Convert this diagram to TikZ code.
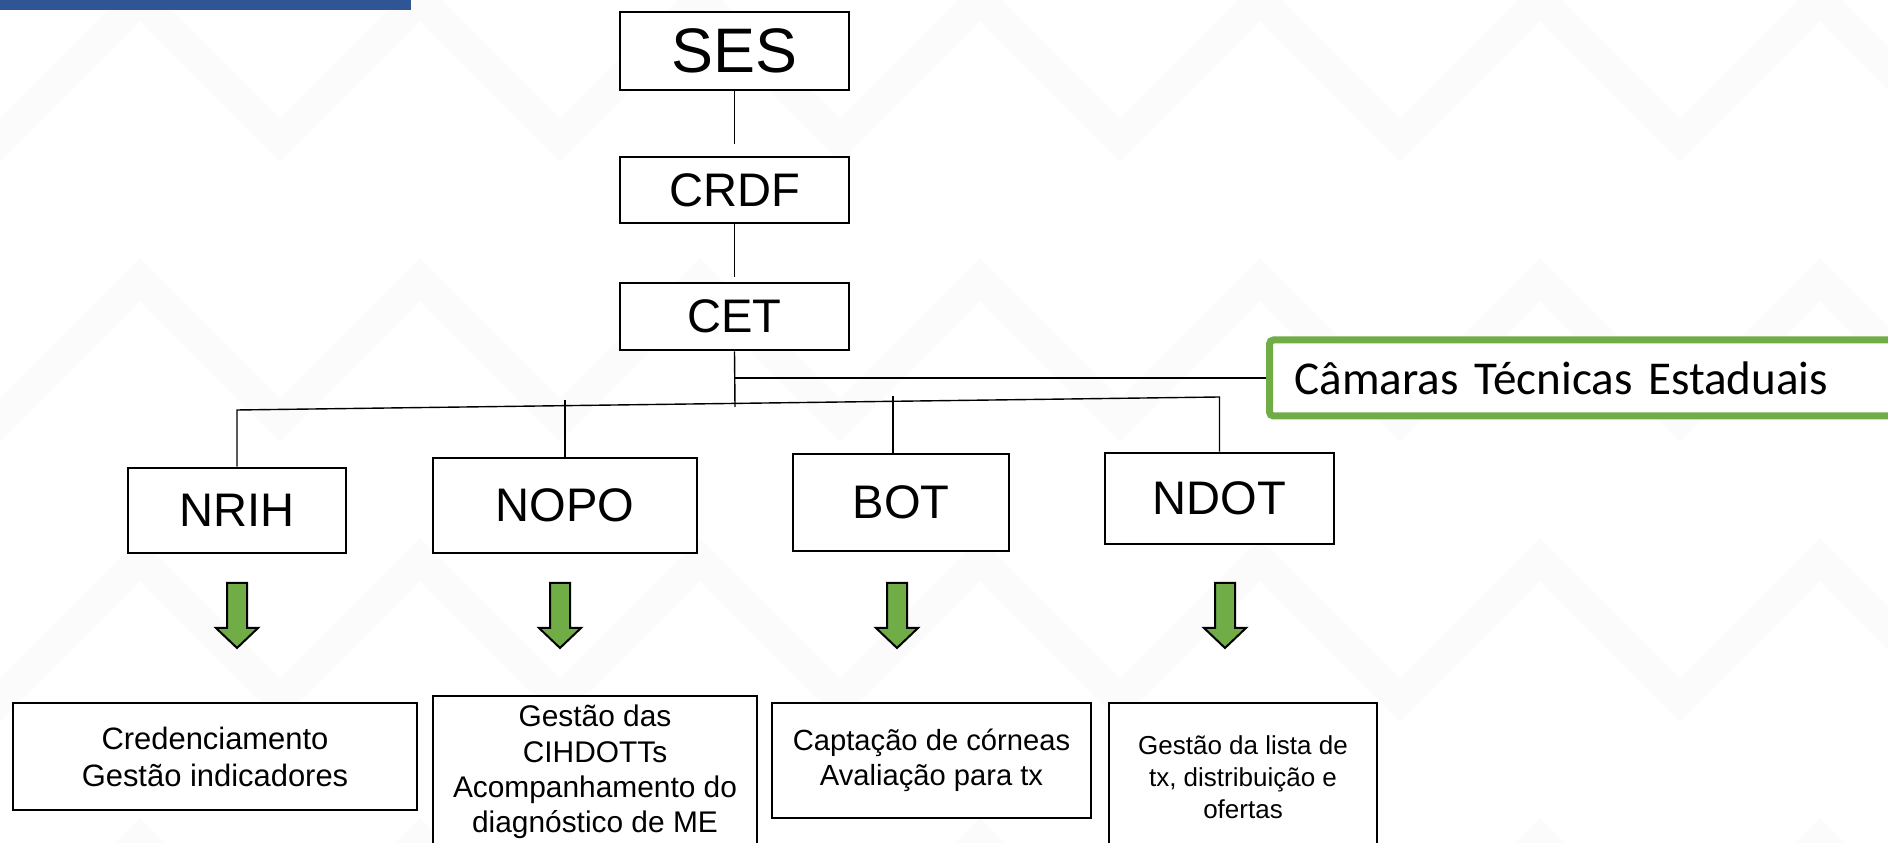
\documentclass[tikz,border=0pt]{standalone}
\usepackage{fontspec}
\setmainfont{Liberation Sans}
\newfontfamily\camfont{Carlito}
\usetikzlibrary{calc}
\definecolor{ogreen}{RGB}{112,173,71}
\definecolor{topblue}{RGB}{47,85,151}
\tikzset{
  topbox/.style={draw, line width=0.28mm, fill=white, minimum width=22.9mm,
    inner sep=0pt, font=\fontsize{13.4}{16}\selectfont},
  unitbox/.style={draw, line width=0.28mm, fill=white, inner sep=0pt,
    font=\fontsize{13.4}{16}\selectfont},
  taskbox/.style={draw, line width=0.25mm, fill=white, align=center, inner sep=0pt},
  link/.style={line width=0.14mm},
  chamber/.style={draw=ogreen, line width=0.7mm, fill=white, rounded corners=0.4mm,
    anchor=west, minimum height=7.6mm, text width=60mm, inner xsep=2.5mm,
    align=left, font=\camfont\fontsize{13.4}{16}\selectfont},
  bgzig/.style={line width=3mm, black!1.5, line join=miter},
  greenarrow/.pic={
    \filldraw[fill=ogreen, draw=black, line width=0.2mm]
      (-10,0) -- (-10,45) -- (-21,45) -- (0,65) -- (21,45) -- (10,45) -- (10,0) -- cycle;
  }
}

\begin{document}
\begin{tikzpicture}[x=0.1mm,y=-0.1mm]

  \useasboundingbox (0,0) rectangle (1888,843);
  \clip (0,0) rectangle (1888,843);
  \fill[white] (0,0) rectangle (1888,843);

  %% background pattern
  \foreach \row in {-1,...,4}{
    \draw[bgzig] (-140,\row*280) \foreach \k in {0,...,7}{ -- ++(140,140) -- ++(140,-140) };
  }
  \fill[topblue] (0,0) rectangle (411,10);

  %% top chain
  \node[topbox, minimum height=7.8mm, font=\fontsize{17.9}{21}\selectfont] (ses) at (734.5,51) {SES};
  \node[topbox, minimum height=6.6mm] (crdf) at (734.5,190) {CRDF};
  \node[topbox, minimum height=6.7mm] (cet) at (734.5,316.5) {CET};

  \draw[link, shorten >=1.2mm] (ses) -- (crdf);
  \draw[link, shorten >=0.5mm] (crdf) -- (cet);

  \node[chamber] (cam) at (1266,378) {Câmaras Técnicas Estaduais};
  \draw[link] (cet.south |- cam.west) -- (cam.west);

  %% units
  \node[unitbox, minimum width=21.8mm, minimum height=8.5mm] (nrih) at (237,510.5) {NRIH};
  \node[unitbox, minimum width=26.4mm, minimum height=9.5mm] (nopo) at (565,505.5) {NOPO};
  \node[unitbox, minimum width=21.6mm, minimum height=9.7mm] (bot) at (901,502.5) {BOT};
  \node[unitbox, minimum width=22.9mm, minimum height=9.1mm] (ndot) at (1219.5,498.5) {NDOT};

  \coordinate (busl) at (nrih.north |- 0,410);
  \coordinate (busr) at (ndot.north |- 0,397);
  \coordinate (cetfoot) at (735,407);
  \draw[link] (cet.south) -- (cetfoot);
  \draw[link] (nrih.north) -- (busl) -- (busr) -- (ndot.north);
  \draw[link] (nopo.north) -- ++(0,-57);
  \draw[link] ([xshift=-0.8mm]bot.north) -- ++(0,-57);

  %% green arrows
  \foreach \ax in {237,560,897,1225}
    \pic at (\ax,583) {greenarrow};

  %% tasks
  \node[taskbox, minimum width=40.4mm, minimum height=10.7mm, font=\fontsize{8.8}{10.5}\selectfont]
    (cred) at (215,756.5) {Credenciamento\\Gestão indicadores};
  \node[taskbox, minimum width=32.4mm, minimum height=15.2mm, font=\fontsize{8.5}{10}\selectfont]
    (cihd) at (595,772) {Gestão das\\CIHDOTTs\\Acompanhamento do\\diagnóstico de ME};
  \node[taskbox, minimum width=31.9mm, minimum height=11.5mm, font=\fontsize{8.3}{10}\selectfont]
    (capt) at (931.5,760.5) {Captação de córneas\\Avaliação para tx};
  \node[taskbox, minimum width=26.8mm, minimum height=14.8mm, font=\fontsize{7.4}{9.1}\selectfont]
    (lista) at (1243,777) {Gestão da lista de\\tx, distribuição e\\ofertas};

\end{tikzpicture}
\end{document}
